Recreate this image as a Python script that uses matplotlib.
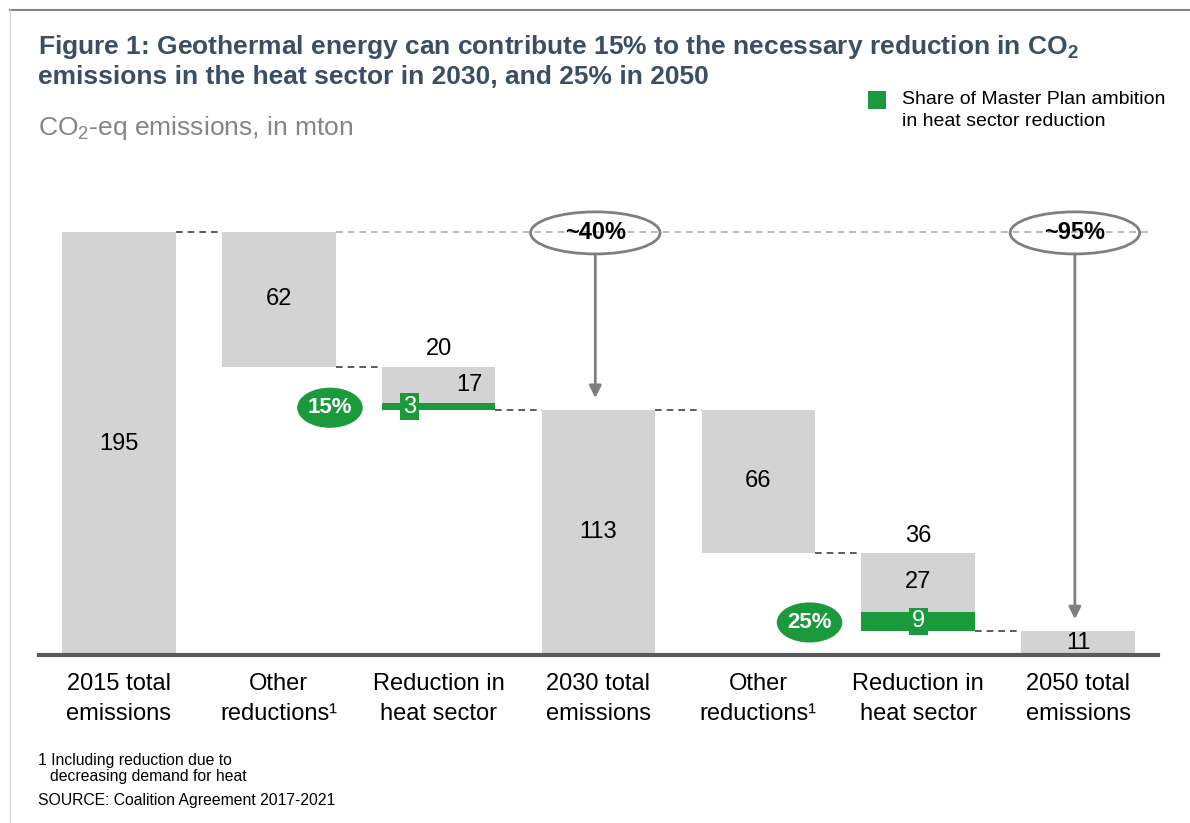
import numpy as np
import matplotlib.pyplot as plt
from matplotlib.patches import Ellipse, Rectangle
from matplotlib.lines import Line2D

plt.rcParams['font.family'] = ['Liberation Sans', 'DejaVu Sans']
plt.rcParams['mathtext.fontset'] = 'custom'
plt.rcParams['mathtext.rm'] = 'Liberation Sans'
plt.rcParams['mathtext.bf'] = 'Liberation Sans:bold'

# 数据
categories = ["2015 total\nemissions", "Other\nreductions\u00b9", "Reduction in\nheat sector",
              "2030 total\nemissions", "Other\nreductions\u00b9", "Reduction in\nheat sector",
              "2050 total\nemissions"]
values = [195, 62, 20, 113, 66, 36, 11]
kinds = ['total', 'drop', 'heat', 'total', 'drop', 'heat', 'total']
geo_part = {2: 3, 5: 9}          # 地热部分 (绿色)
geo_share = {2: "15%", 5: "25%"}
total_share = {3: "~40%", 6: "~95%"}

GRAY = '#d3d3d3'
GREEN = '#1a9a3c'
TITLE = '#3a4e66'
FS = 17

fig = plt.figure(figsize=(11.9, 8.23), dpi=100)
ax = fig.add_axes([39 / 1190, (823 - 655) / 823, (1158 - 39) / 1190, 455.5 / 823])
ax.set_xlim(-0.5, 6.5)
ax.set_ylim(0, 210)

w = 0.71
x = np.arange(len(values))

# 计算每根柱子的底部和顶部
bottoms, tops = [], []
level = 0
for v, k in zip(values, kinds):
    if k == 'total':
        level = v
        bottoms.append(0)
        tops.append(v)
    else:
        bottoms.append(level - v)
        tops.append(level)
        level -= v

for i, (v, k) in enumerate(zip(values, kinds)):
    if k == 'heat':
        g = geo_part[i]
        ax.bar(x[i], v - g, w, bottom=bottoms[i] + g, color=GRAY, zorder=2)
        ax.bar(x[i], g, w, bottom=bottoms[i], color=GREEN, zorder=2)
        # 总数在上方
        ax.text(x[i], tops[i] + 8, str(v), ha='center', va='center', fontsize=FS)
        # 灰色部分数字
        gx = x[i] + 0.19 if i == 2 else x[i]
        ax.text(gx, bottoms[i] + g + (v - g) / 2, str(v - g), ha='center', va='center', fontsize=FS)
        # 绿色小方块
        bx = x[i] - 0.18 if i == 2 else x[i]
        ax.text(bx, bottoms[i] + g / 2, str(g), ha='center', va='center', fontsize=FS,
                color='white', zorder=4,
                bbox=dict(boxstyle='square,pad=0.12', fc=GREEN, ec='none'))
        # 绿色椭圆百分比
        ex = x[i] - 0.68
        ey = bottoms[i] + g / 2 - 0.5
        ax.add_patch(Ellipse((ex, ey), 0.41, 18.5, fc=GREEN, ec='none', zorder=3))
        ax.text(ex, ey, geo_share[i], ha='center', va='center', fontsize=16,
                color='white', fontweight='bold', zorder=4)
    else:
        ax.bar(x[i], v, w, bottom=bottoms[i], color=GRAY, zorder=2)
        ax.text(x[i], bottoms[i] + v / 2, str(v), ha='center', va='center', fontsize=FS, zorder=3)

# 连接虚线
for i in range(len(values) - 1):
    y = bottoms[i] if kinds[i] != 'total' else tops[i]
    ax.plot([x[i] + w / 2, x[i + 1] - w / 2], [y, y], color='#404040', lw=1.2,
            dashes=(4, 3), zorder=1)

# 顶部浅灰虚线
ax.plot([x[1] + w / 2, 6.45], [values[0], values[0]], color='#b0b0b0', lw=1.2,
        dashes=(4, 3), zorder=1)

# 灰色椭圆和箭头
for i, lab in total_share.items():
    ey = values[0] - 0.4
    ax.add_patch(Ellipse((x[i] - 0.02, ey), 0.81, 19.4, fc='none', ec='#7f7f7f', lw=2, zorder=3))
    ax.text(x[i] - 0.02, ey, lab, ha='center', va='center', fontsize=FS, fontweight='bold', zorder=4)
    ax.annotate('', xy=(x[i] - 0.02, tops[i] + 5.5), xytext=(x[i] - 0.02, ey - 9.7),
                arrowprops=dict(arrowstyle='-|>', color='#7f7f7f', lw=2, mutation_scale=18,
                                shrinkA=0, shrinkB=0), zorder=3)

# 坐标轴
for s in ['top', 'right', 'left']:
    ax.spines[s].set_visible(False)
ax.spines['bottom'].set_color('#5a5a5a')
ax.spines['bottom'].set_linewidth(3)
ax.set_yticks([])
ax.set_xticks(x)
ax.set_xticklabels(categories, fontsize=FS, linespacing=1.45)
ax.tick_params(axis='x', length=0, pad=13)

# 标题与文字
fig.text(38 / 1190, 1 - 47 / 823,
         r"Figure 1: Geothermal energy can contribute 15% to the necessary reduction in CO$_\mathbf{2}$",
         fontsize=19, fontweight='bold', color=TITLE, va='center')
fig.text(38 / 1190, 1 - 77 / 823, "emissions in the heat sector in 2030, and 25% in 2050",
         fontsize=19, fontweight='bold', color=TITLE, va='center')
fig.text(38 / 1190, 1 - 128 / 823, r"CO$_2$-eq emissions, in mton", fontsize=19,
         color='#858585', va='center')

# 图例
fig.add_artist(Rectangle((868 / 1190, 1 - 109 / 823), 18 / 1190, 18 / 823,
                         transform=fig.transFigure, fc=GREEN, ec='none'))
fig.text(902 / 1190, 1 - 99 / 823, "Share of Master Plan ambition", fontsize=14, va='center')
fig.text(902 / 1190, 1 - 122 / 823, "in heat sector reduction", fontsize=14, va='center')

# 脚注
fig.text(38 / 1190, 1 - 760 / 823, "1 Including reduction due to", fontsize=11.3, va='center')
fig.text(50 / 1190, 1 - 776 / 823, "decreasing demand for heat", fontsize=11.3, va='center')
fig.text(38 / 1190, 1 - 801 / 823, "SOURCE: Coalition Agreement 2017-2021", fontsize=11.3, va='center')

# 边框线
fig.add_artist(Line2D([10 / 1190, 1], [1 - 10 / 823, 1 - 10 / 823], transform=fig.transFigure,
                      color='#7d8791', lw=1.5))
fig.add_artist(Line2D([10 / 1190, 10 / 1190], [0, 1 - 10 / 823], transform=fig.transFigure,
                      color='#d8d8d8', lw=1))

fig.savefig('out.png', dpi=100)
